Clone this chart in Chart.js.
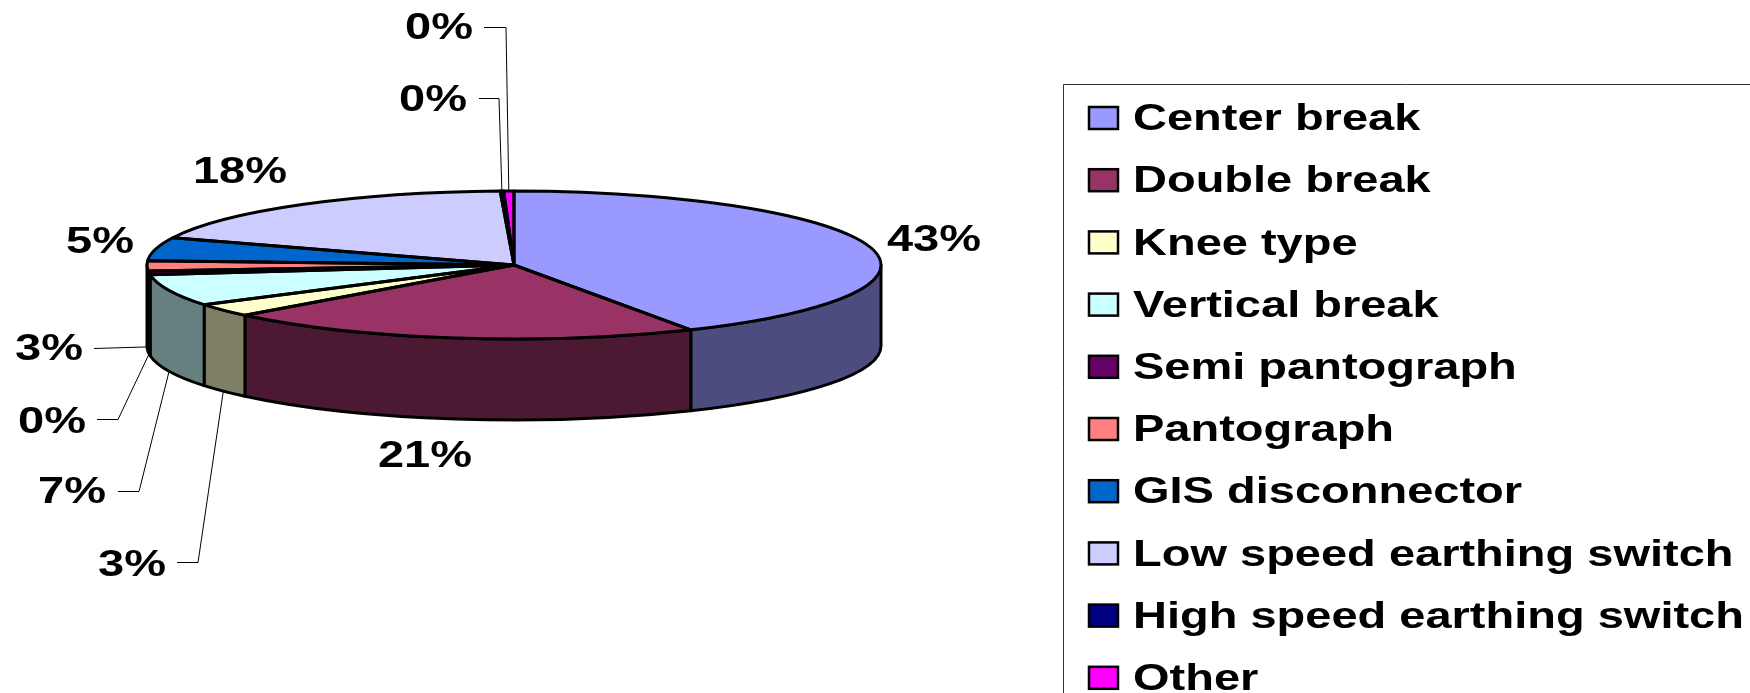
<!DOCTYPE html>
<html>
<head>
<meta charset="utf-8">
<title>Disconnector types</title>
<script src="https://cdn.jsdelivr.net/npm/chart.js@4"></script>
<style>
  html, body { margin: 0; padding: 0; background: #fff; overflow: hidden; }
  canvas { display: block; }
</style>
</head>
<body>
<canvas id="type-chart" width="1750" height="693"></canvas>
<script>
const categories = ['Center break', 'Double break', 'Knee type', 'Vertical break', 'Semi pantograph',
  'Pantograph', 'GIS disconnector', 'Low speed earthing switch', 'High speed earthing switch', 'Other'];
// slice sizes
const sliceValues = [42, 21.1, 2.9, 6.9, 0.8, 2.2, 5.1, 18.4, 0.15, 0.45];
// printed labels
const percentLabels = ['43%', '21%', '3%', '7%', '0%', '3%', '5%', '18%', '0%', '0%'];
const sliceColors = ['#9999FF', '#993366', '#FFFFCC', '#CCFFFF', '#660066',
  '#FF8080', '#0066CC', '#CCCCFF', '#000080', '#FF00FF'];

// label centre per slice, and the leader's start and elbow where it has one
const labelSpots = [
  { x: 934, y: 241 },
  { x: 425, y: 457 },
  { x: 132, y: 566, from: [177, 562.5], elbow: [198, 562.5], side: 'wall' },
  { x: 72, y: 493, from: [118, 491.5], elbow: [139, 491.5], side: 'wall' },
  { x: 52, y: 423, from: [97, 419.5], elbow: [118, 419.5], side: 'wall' },
  { x: 49, y: 350, from: [94, 348.5], side: 'wall' },
  { x: 100, y: 243 },
  { x: 240, y: 173 },
  { x: 433, y: 101, from: [479, 98.5], elbow: [499, 98.5], side: 'top' },
  { x: 439, y: 29, from: [484, 27.5], elbow: [506, 27.5], side: 'top' }
];

const pie = { cx: 514, cy: 265, rx: 367, ry: 74, depth: 81, line: 3 };
const legendBox = { left: 1063, top: 84, swatchX: 1089, textX: 1133, firstY: 120, rowGap: 62.2 };
const FONT = 'bold 37px "Liberation Sans"';
const TEXT_STRETCH = 1.27;

function darken(hex) {
  const n = parseInt(hex.slice(1), 16);
  const r = (n >> 16) >> 1, g = ((n >> 8) & 255) >> 1, b = (n & 255) >> 1;
  return `rgb(${r},${g},${b})`;
}

function wideText(ctx, text, x, y, align) {
  ctx.save();
  ctx.translate(x, y);
  ctx.scale(TEXT_STRETCH, 1);
  ctx.font = FONT;
  ctx.fillStyle = '#000';
  ctx.textAlign = align;
  ctx.textBaseline = 'middle';
  ctx.fillText(text, 0, 0);
  ctx.restore();
}

const pie3d = {
  id: 'pie3d',
  // side wall first, then the top face goes through the library under a squash
  beforeDatasetsDraw(chart) {
    const ctx = chart.ctx;
    const arcs = chart.getDatasetMeta(0).data;
    ctx.save();
    ctx.lineWidth = pie.line;
    ctx.strokeStyle = '#000';
    ctx.lineJoin = 'round';
    arcs.forEach((arc, i) => {
      const a0 = Math.max(arc.startAngle, 0);
      const a1 = Math.min(arc.endAngle, Math.PI);
      if (a1 <= a0) return;
      ctx.beginPath();
      ctx.ellipse(pie.cx, pie.cy, pie.rx, pie.ry, 0, a0, a1);
      ctx.ellipse(pie.cx, pie.cy + pie.depth, pie.rx, pie.ry, 0, a1, a0, true);
      ctx.closePath();
      ctx.fillStyle = darken(sliceColors[i]);
      ctx.fill();
      ctx.stroke();
    });
    ctx.restore();

    const r = arcs[0].outerRadius;
    ctx.save();
    ctx.translate(pie.cx, pie.cy);
    ctx.scale(pie.rx / r, pie.ry / r);
    ctx.translate(-arcs[0].x, -arcs[0].y);
  },
  afterDatasetsDraw(chart) {
    const ctx = chart.ctx;
    ctx.restore();
    const arcs = chart.getDatasetMeta(0).data;

    // outlines stroked unsquashed so the line width stays even
    ctx.save();
    ctx.lineWidth = pie.line;
    ctx.strokeStyle = '#000';
    ctx.lineJoin = 'round';
    arcs.forEach(arc => {
      ctx.beginPath();
      ctx.moveTo(pie.cx, pie.cy);
      ctx.ellipse(pie.cx, pie.cy, pie.rx, pie.ry, 0, arc.startAngle, arc.endAngle);
      ctx.closePath();
      ctx.stroke();
    });
    ctx.restore();

    // leaders run to the middle of their slice's edge
    ctx.save();
    ctx.lineWidth = 1;
    ctx.strokeStyle = '#000';
    arcs.forEach((arc, i) => {
      const spot = labelSpots[i];
      if (spot.from) {
        const mid = (arc.startAngle + arc.endAngle) / 2;
        const endX = pie.cx + pie.rx * Math.cos(mid);
        const endY = pie.cy + pie.ry * Math.sin(mid) + (spot.side === 'wall' ? pie.depth : 0);
        ctx.beginPath();
        ctx.moveTo(spot.from[0], spot.from[1]);
        if (spot.elbow) ctx.lineTo(spot.elbow[0], spot.elbow[1]);
        ctx.lineTo(endX, endY);
        ctx.stroke();
      }
      wideText(ctx, percentLabels[i], spot.x, spot.y, 'center');
    });
    ctx.restore();
  },
  afterDraw(chart) {
    const ctx = chart.ctx;
    const w = chart.width, h = chart.height;

    // legend frame runs off the right and bottom of the picture
    ctx.save();
    ctx.strokeStyle = '#333';
    ctx.lineWidth = 1;
    ctx.beginPath();
    ctx.moveTo(legendBox.left + 0.5, h);
    ctx.lineTo(legendBox.left + 0.5, legendBox.top + 0.5);
    ctx.lineTo(w, legendBox.top + 0.5);
    ctx.stroke();

    categories.forEach((name, i) => {
      const y = legendBox.firstY + i * legendBox.rowGap;
      ctx.fillStyle = sliceColors[i];
      ctx.strokeStyle = '#000';
      ctx.lineWidth = 2.5;
      ctx.fillRect(legendBox.swatchX, y - 13, 29, 22);
      ctx.strokeRect(legendBox.swatchX, y - 13, 29, 22);
      wideText(ctx, name, legendBox.textX, y, 'left');
    });
    ctx.restore();
  }
};

new Chart(document.getElementById('type-chart').getContext('2d'), {
  type: 'pie',
  data: {
    labels: categories,
    datasets: [{
      data: sliceValues,
      backgroundColor: sliceColors,
      borderWidth: 0
    }]
  },
  options: {
    responsive: false,
    animation: false,
    layout: { padding: 0 },
    plugins: {
      legend: { display: false },
      tooltip: { enabled: false }
    }
  },
  plugins: [pie3d]
});
</script>
</body>
</html>
